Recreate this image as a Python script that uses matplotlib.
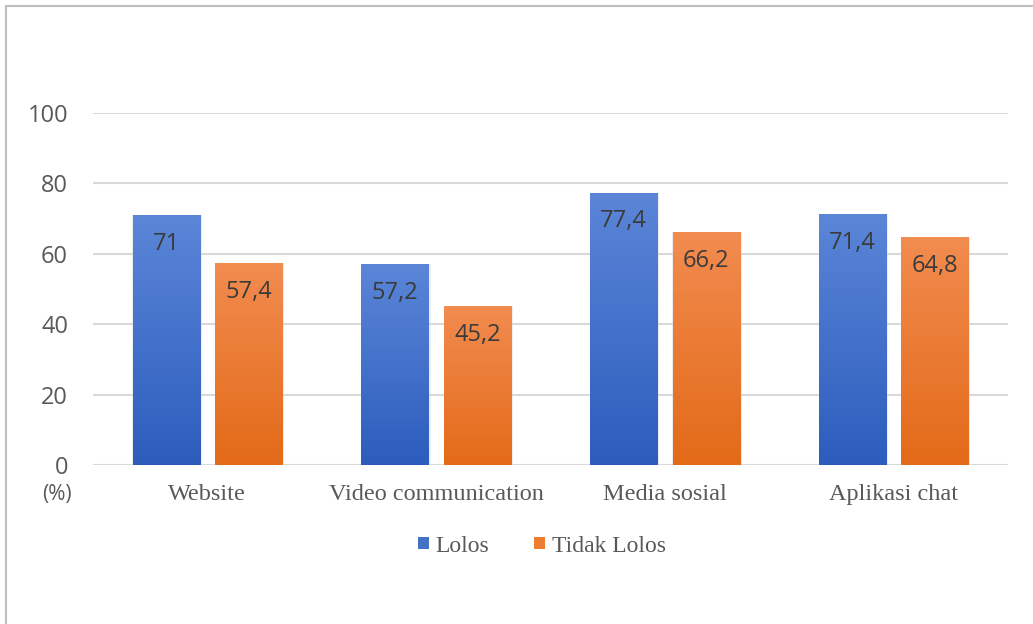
import matplotlib.pyplot as plt
import matplotlib.colors as mcolors
import numpy as np
from matplotlib.lines import Line2D
from matplotlib.patches import Patch

# data
kategori = ['Website', 'Video communication', 'Media sosial', 'Aplikasi chat']
lolos = [71, 57.2, 77.4, 71.4]
tidak_lolos = [57.4, 45.2, 66.2, 64.8]
label_lolos = ['71', '57,2', '77,4', '71,4']
label_tidak = ['57,4', '45,2', '66,2', '64,8']
yticks = [0, 20, 40, 60, 80, 100]

fig = plt.figure(figsize=(10.33, 6.24), dpi=100)
ax = fig.add_axes([93 / 1033, 1 - 465 / 624, (1008 - 93) / 1033, (465 - 113) / 624])

x = np.arange(len(kategori))
w = 0.293
off = 0.18


def gradient_bars(xs, vals, c_top, c_bot):
    cmap = mcolors.LinearSegmentedColormap.from_list('g', [c_bot, c_top])
    grad = np.linspace(0, 1, 256).reshape(-1, 1)
    bars = ax.bar(xs, vals, w, color='none', edgecolor='none', zorder=3)
    for b in bars:
        bx, by = b.get_x(), b.get_y()
        bw, bh = b.get_width(), b.get_height()
        # soft shadow
        ax.bar(bx + bw / 2 + 0.004, bh, bw + 0.01, color='#d8d8d8', alpha=0.45,
               edgecolor='none', zorder=2)
        im = ax.imshow(grad, cmap=cmap, origin='lower', aspect='auto',
                       extent=[bx, bx + bw, by, by + bh], zorder=3)
        im.set_clip_path(b)
    return bars


gradient_bars(x - off, lolos, '#5b86d8', '#2c5dbd')
gradient_bars(x + off, tidak_lolos, '#f28c50', '#e36a18')

for xi, v, t in zip(x - off, lolos, label_lolos):
    ax.text(xi, v - 8.2, t, ha='center', va='center', fontsize=17,
            family='Open Sans', color='#3a3a3a', zorder=5)
for xi, v, t in zip(x + off, tidak_lolos, label_tidak):
    ax.text(xi, v - 8.2, t, ha='center', va='center', fontsize=17,
            family='Open Sans', color='#3a3a3a', zorder=5)

ax.set_xlim(-0.5, 3.5)
ax.set_ylim(0, 100)
ax.set_yticks(yticks)
ax.set_yticklabels([str(t) for t in yticks], family='Open Sans', fontsize=17,
                   color='#595959')
ax.set_xticks(x)
ax.set_xticklabels(kategori, family='Liberation Serif', fontsize=17.5,
                   color='#595959')
ax.tick_params(axis='both', length=0)
ax.tick_params(axis='y', pad=18)
ax.tick_params(axis='x', pad=14)
for s in ax.spines.values():
    s.set_visible(False)
ax.grid(axis='y', color='#d9d9d9', linewidth=1.5, zorder=0)
ax.set_axisbelow(True)

ax.text(-0.023, -0.083, '(%)', transform=ax.transAxes, ha='right', va='center',
        fontsize=15, family='Open Sans', color='#595959')

handles = [Patch(facecolor='#4472c4', edgecolor='none'),
           Patch(facecolor='#ed7d31', edgecolor='none')]
fig.legend(handles, ['Lolos', 'Tidak Lolos'], loc='center',
           bbox_to_anchor=(542 / 1033, 1 - 546 / 624), ncol=2, frameon=False,
           prop={'family': 'Liberation Serif', 'size': 17},
           handlelength=0.45, handleheight=0.45, handletextpad=0.3,
           columnspacing=1.9, labelcolor='#595959')

# border (top and left edges of the frame)
fig.add_artist(Line2D([6 / 1033, 1], [1 - 6 / 624, 1 - 6 / 624],
                      transform=fig.transFigure, color='#bfbfbf', linewidth=1.5))
fig.add_artist(Line2D([6 / 1033, 6 / 1033], [0, 1 - 6 / 624],
                      transform=fig.transFigure, color='#bfbfbf', linewidth=1.5))

fig.savefig('out.png', dpi=100)
